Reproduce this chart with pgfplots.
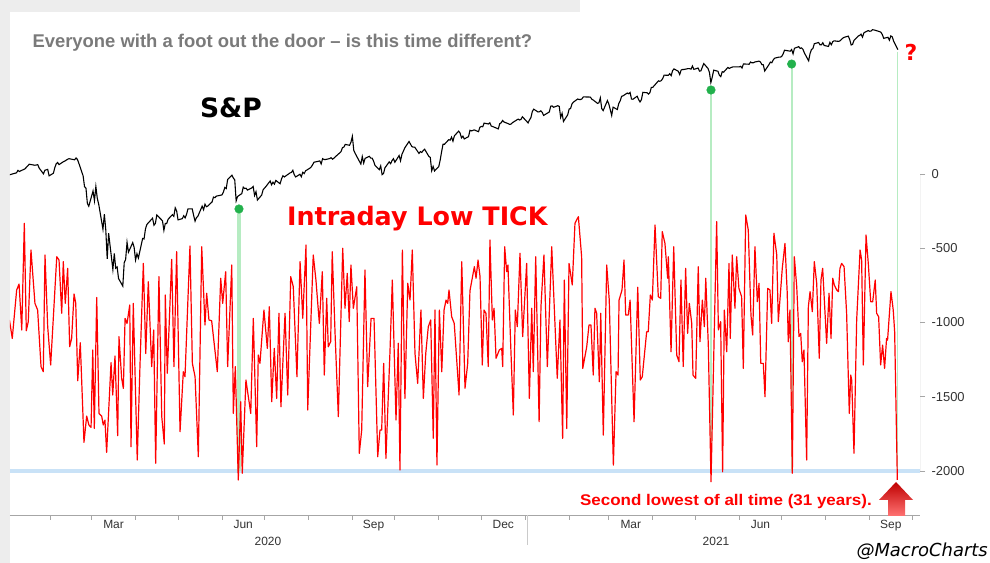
\documentclass[border=0pt]{standalone}
\usepackage{fontspec}
\setmainfont{Liberation Sans}
\newfontfamily\dejavu{DejaVu Sans}
\usepackage{pgfplots}
\usepackage{pgfplotstable}
\pgfplotsset{compat=1.18}
\definecolor{bgray}{HTML}{EDEDED}
\definecolor{axgray}{HTML}{A6A6A6}
\definecolor{labgray}{HTML}{333333}
\definecolor{titlegray}{HTML}{7A7A7A}
\definecolor{lblue}{HTML}{C9E2F7}
\definecolor{lgreen}{HTML}{B6ECC2}
\definecolor{dgreen}{HTML}{22B14C}
\definecolor{tred}{HTML}{FF0000}

\pgfplotstableread[row sep=\\]{
d v\\
2 -983\\ 4 -1107\\ 7.1 -781\\ 8.8 -741\\ 10.7 -1050\\ 12.5 -332\\ 13.9 -1055\\ 15.3 -994\\ 17.2 -512\\ 20 -871\\
21.9 -916\\ 24.3 -1297\\ 25.9 -1331\\ 27.1 -545\\ 29 -1028\\ 31.1 -1286\\ 35.4 -557\\ 37 -579\\ 38.9 -938\\ 40 -590\\
41.4 -871\\ 43.1 -635\\ 44.5 -1163\\ 45.9 -1107\\ 47.6 -808\\ 48.8 -871\\ 50.2 -1392\\ 52 -1136\\ 54.6 -1807\\ 56.5 -1630\\
58.1 -1690\\ 59.6 -1706\\ 60.8 -1185\\ 61.9 -1713\\ 63.6 -831\\ 65.2 -1612\\ 67.1 -1630\\ 68.2 -1690\\ 69.4 -1657\\ 70.6 -1874\\
73.7 -1270\\ 74.9 -1488\\ 76.5 -1226\\ 78.4 -1762\\ 79.3 -1095\\ 81.2 -1376\\ 82.4 -1443\\ 83.6 -972\\ 85 -1006\\ 86.9 -882\\
87.8 -1836\\ 89.4 -871\\ 92.2 -1926\\ 94.1 -1297\\ 96.5 -602\\ 98.2 -1208\\ 100 -725\\ 102.4 -1297\\ 103.8 -1050\\ 105.2 -1948\\
107.5 -691\\ 109.5 -1634\\ 111.3 -1818\\ 112 -815\\ 113.4 -1342\\ 116.5 -575\\ 118.1 -1297\\ 120 -523\\ 122.4 -1735\\ 124.7 -1331\\
125.9 -1365\\ 129.4 -485\\ 131.1 -1275\\ 133 -1365\\ 135.3 -1904\\ 137.7 -490\\ 140 -1017\\ 141.2 -803\\ 142.8 -983\\ 144.7 -988\\
148.7 -1331\\ 151.1 -702\\ 152.5 -871\\ 154.6 -658\\ 156 -1297\\ 158.9 -613\\ 160 -1612\\ 161.4 -1297\\ 163.5 -2061\\ 165.2 -1533\\
166.3 -2015\\ 168.9 -1387\\ 172.3 -1612\\ 174.1 -972\\ 176.5 -1836\\ 177.6 -1219\\ 178.8 -1275\\ 181.6 -916\\ 184 -1174\\ 185.4 -894\\
187.1 -1533\\ 188.9 -1174\\ 190.6 -1511\\ 192.2 -938\\ 193.6 -1567\\ 196.5 -938\\ 198.4 -1488\\ 200.5 -691\\ 202.3 -759\\ 204.9 -1365\\
207.1 -590\\ 209 -972\\ 211.3 -478\\ 212.5 -1589\\ 216.4 -545\\ 218.3 -714\\ 220.7 -1006\\ 222.8 -658\\ 224.2 -1354\\ 225.9 -837\\
227 -1163\\ 228.7 -1129\\ 229.8 -523\\ 231.8 -1073\\ 234.1 -1634\\ 237.2 -500\\ 238.8 -904\\ 240.4 -669\\ 241.8 -994\\ 243 -613\\
244.7 -904\\ 247.1 -759\\ 248.9 -1881\\ 250.6 -1724\\ 252.9 -646\\ 254.8 -1432\\ 257.2 -972\\ 259.3 -972\\ 261.9 -1904\\ 263.5 -1724\\
264.7 -1724\\ 266.1 -1275\\ 267.7 -1915\\ 270.6 -1185\\ 272.2 -714\\ 274.8 -1657\\ 276.4 -1140\\ 277.6 -1993\\ 279.3 -512\\ 281.1 -1511\\
283.1 -736\\ 284.7 -849\\ 286.3 -512\\ 288.2 -1208\\ 290.1 -1410\\ 292.4 -916\\ 294.1 -1511\\ 295.8 -1208\\ 297.6 -1028\\ 299.3 -983\\
301.1 -1780\\ 302.3 -916\\ 303.7 -1960\\ 305.4 -916\\ 307.1 -1331\\ 308.7 -916\\ 310.1 -849\\ 311.3 -871\\ 312.2 -781\\ 314.1 -961\\
315.9 -1006\\ 319.3 -1488\\ 321.2 -590\\ 323.5 -1443\\ 325.4 -1275\\ 327 -786\\ 330.1 -624\\ 331.3 -702\\ 332.7 -579\\ 334.1 -691\\
335.7 -1286\\ 336.9 -916\\ 338.3 -938\\ 339.9 -1297\\ 341.1 -444\\ 342.8 -983\\ 344 -904\\ 345.4 -1241\\ 347.7 -1185\\ 349.4 -1174\\
350.1 -1297\\ 351.5 -490\\ 352.9 -658\\ 353.8 -613\\ 355.7 -1140\\ 357.6 -1623\\ 359 -916\\ 360.4 -1028\\ 362.3 -534\\ 364.2 -1095\\
367 -602\\ 368.9 -1511\\ 370.6 -904\\ 371.7 -1331\\ 373.4 -557\\ 375.8 -1668\\ 377.1 -894\\ 379.2 -545\\ 381.6 -1297\\ 384.7 -490\\
388.6 -1376\\ 390.5 -983\\ 392.4 -1780\\ 393.6 -714\\ 395.3 -1713\\ 396.9 -602\\ 399.2 -747\\ 401.1 -332\\ 403.5 -287\\ 405.8 -557\\
406.6 -1309\\ 409.4 -1163\\ 411 -1017\\ 412.4 -1017\\ 414 -1354\\ 415.2 -904\\ 416.4 -938\\ 418.3 -1399\\ 419.3 -938\\ 421.1 -1758\\
423.5 -613\\ 425.3 -849\\ 428.2 -1960\\ 430.1 -1331\\ 431.5 -1354\\ 432.2 -849\\ 434.3 -781\\ 435.7 -579\\ 436.9 -950\\ 438.7 -950\\
440 -849\\ 442.8 -1668\\ 445.4 -763\\ 447.2 -1387\\ 448.6 -1365\\ 451.7 -1062\\ 452.8 -1062\\ 454.3 -815\\ 455.7 -849\\ 457.6 -343\\
459.9 -826\\ 461.6 -837\\ 462.7 -388\\ 464.6 -467\\ 466.5 -702\\ 467 -557\\ 468.9 -1197\\ 470.8 -490\\ 472.9 -1219\\ 474.5 -1264\\
475.9 -714\\ 477.5 -1297\\ 479.2 -635\\ 480.6 -1073\\ 481.8 -871\\ 483.5 -1006\\ 484.4 -1354\\ 486.3 -1376\\ 488.1 -624\\ 489.3 -1129\\
491 -849\\ 492.4 -1028\\ 493.4 -702\\ 495.2 -1152\\ 497.1 -2072\\ 501.1 -321\\ 502.3 -1050\\ 503.9 -994\\ 505.3 -2005\\ 506.5 -916\\
508.2 -1197\\ 509.8 -602\\ 510.7 -1107\\ 512.1 -545\\ 514 -904\\ 515.2 -557\\ 516.8 -770\\ 518.7 -826\\ 519.9 -1309\\ 521.6 -276\\
523.4 -377\\ 525.3 -950\\ 526.5 -1084\\ 528.1 -490\\ 529.8 -860\\ 531 -736\\ 532.2 -1275\\ 534 -1275\\ 535.2 -1500\\ 537.1 -770\\
538.7 -781\\ 539.9 -1006\\ 541.5 -399\\ 543.5 -545\\ 544.6 -994\\ 547.4 -635\\ 549.3 -467\\ 550.9 -803\\ 551.6 -1129\\ 552.8 -916\\
554.5 -2015\\ 555.9 -557\\ 557.6 -759\\ 559.2 -1095\\ 560.4 -1073\\ 561.5 -1264\\ 562.7 -1185\\ 564.6 -1926\\ 565.8 -894\\ 567 -792\\
568.6 -927\\ 570 -590\\ 571.7 -736\\ 573.5 -1241\\ 574.7 -714\\ 575.9 -635\\ 578.7 -1140\\ 580.4 -803\\ 581.8 -1107\\ 583 -702\\
584.1 -747\\ 585.8 -781\\ 587 -792\\ 588.1 -635\\ 589.3 -602\\ 591 -624\\ 592.8 -938\\ 594.7 -1612\\ 595.7 -1354\\ 596.4 -1387\\
598 -1881\\ 599.9 -983\\ 602.3 -512\\ 603.4 -579\\ 604.6 -1286\\ 606.5 -411\\ 608.1 -602\\ 609.8 -860\\ 611.2 -860\\ 613 -714\\
614 -938\\ 615.4 -961\\ 616.8 -1286\\ 618.2 -1152\\ 619.6 -1309\\ 621 -1107\\ 621.7 -1118\\ 624.1 -792\\ 625.7 -916\\ 626.7 -1062\\
628.6 -2060\\
}\tickdata

\pgfplotstableread[row sep=\\]{
d p\\
1 3258\\ 2 3235\\ 5 3246\\ 7 3253\\ 8 3275\\ 9 3265\\ 13 3289\\ 15 3317\\ 16 3330\\ 20 3321\\
22 3326\\ 23 3295\\ 26 3244\\ 27 3276\\ 29 3284\\ 30 3226\\ 33 3249\\ 34 3298\\ 35 3334\\ 36 3346\\
37 3327\\ 40 3352\\ 41 3358\\ 43 3374\\ 44 3380\\ 48 3370\\ 49 3386\\ 50 3373\\ 51 3338\\ 54 3226\\
55 3128\\ 56 3116\\ 57 2979\\ 58 2954\\ 61 3090\\ 62 3003\\ 63 3130\\ 64 3024\\ 65 2972\\ 68 2747\\
69 2882\\ 70 2741\\ 71 2481\\ 72 2711\\ 75 2386\\ 76 2529\\ 77 2398\\ 78 2409\\ 79 2305\\ 82 2237\\
83 2447\\ 84 2476\\ 85 2630\\ 86 2541\\ 89 2627\\ 90 2585\\ 91 2471\\ 92 2527\\ 93 2489\\ 96 2664\\
97 2660\\ 98 2750\\ 99 2790\\ 103 2846\\ 104 2783\\ 105 2800\\ 106 2875\\ 110 2823\\ 111 2737\\ 112 2799\\
113 2798\\ 114 2837\\ 117 2878\\ 118 2863\\ 119 2939\\ 120 2912\\ 121 2831\\ 124 2842\\ 125 2868\\ 126 2849\\
127 2881\\ 128 2930\\ 131 2930\\ 132 2870\\ 133 2820\\ 134 2852\\ 135 2864\\ 138 2954\\ 139 2922\\ 140 2972\\
141 2949\\ 142 2955\\ 145 2992\\ 146 3036\\ 147 3030\\ 148 3044\\ 152 3055\\ 153 3080\\ 154 3122\\ 155 3112\\
156 3194\\ 159 3232\\ 160 3207\\ 161 3190\\ 162 3002\\ 163 3041\\ 166 3067\\ 167 3125\\ 168 3113\\ 169 3115\\
170 3098\\ 173 3118\\ 174 3131\\ 175 3050\\ 176 3084\\ 177 3009\\ 180 3053\\ 181 3100\\ 182 3116\\ 183 3130\\
186 3180\\ 187 3146\\ 188 3169\\ 189 3152\\ 190 3185\\ 193 3155\\ 194 3198\\ 195 3227\\ 196 3216\\ 197 3225\\
200 3252\\ 201 3257\\ 202 3276\\ 203 3236\\ 204 3216\\ 207 3240\\ 208 3218\\ 209 3258\\ 210 3246\\ 211 3271\\
214 3295\\ 215 3306\\ 216 3327\\ 217 3349\\ 218 3351\\ 221 3360\\ 222 3333\\ 223 3380\\ 224 3373\\ 225 3372\\
228 3381\\ 229 3389\\ 230 3375\\ 231 3385\\ 232 3397\\ 235 3431\\ 236 3443\\ 237 3478\\ 238 3484\\ 239 3508\\
242 3500\\ 243 3527\\ 244 3580\\ 245 3455\\ 246 3427\\ 250 3332\\ 251 3399\\ 252 3340\\ 253 3383\\ 256 3401\\
257 3385\\ 258 3385\\ 259 3357\\ 260 3319\\ 263 3281\\ 264 3315\\ 265 3237\\ 266 3247\\ 267 3298\\ 270 3351\\
271 3335\\ 272 3363\\ 273 3380\\ 274 3348\\ 277 3408\\ 278 3361\\ 279 3419\\ 280 3447\\ 281 3477\\ 284 3534\\
285 3511\\ 286 3489\\ 287 3483\\ 288 3484\\ 291 3427\\ 292 3443\\ 293 3436\\ 294 3453\\ 295 3465\\ 298 3400\\
299 3391\\ 300 3271\\ 301 3310\\ 302 3270\\ 305 3310\\ 306 3369\\ 307 3443\\ 308 3510\\ 309 3509\\ 312 3550\\
313 3546\\ 314 3573\\ 315 3537\\ 316 3585\\ 319 3627\\ 320 3610\\ 321 3567\\ 322 3582\\ 323 3557\\ 326 3578\\
327 3635\\ 328 3629\\ 330 3638\\ 333 3622\\ 334 3662\\ 335 3669\\ 336 3666\\ 337 3699\\ 340 3691\\ 341 3702\\
342 3673\\ 343 3668\\ 344 3663\\ 347 3647\\ 348 3694\\ 349 3701\\ 350 3722\\ 351 3709\\ 354 3694\\ 355 3687\\
356 3690\\ 357 3703\\ 361 3735\\ 362 3727\\ 363 3732\\ 364 3756\\ 368 3701\\ 369 3727\\ 370 3748\\ 371 3803\\
372 3824\\ 375 3799\\ 376 3801\\ 377 3809\\ 378 3795\\ 379 3768\\ 383 3799\\ 384 3851\\ 385 3853\\ 386 3841\\
389 3855\\ 390 3849\\ 391 3750\\ 392 3787\\ 393 3714\\ 396 3774\\ 397 3826\\ 398 3830\\ 399 3871\\ 400 3887\\
403 3915\\ 404 3911\\ 405 3910\\ 406 3916\\ 407 3934\\ 411 3933\\ 412 3932\\ 413 3913\\ 414 3906\\ 417 3876\\
418 3881\\ 419 3925\\ 420 3829\\ 421 3811\\ 424 3901\\ 425 3870\\ 426 3820\\ 427 3768\\ 428 3842\\ 431 3821\\
432 3875\\ 433 3898\\ 434 3939\\ 435 3943\\ 438 3969\\ 439 3962\\ 440 3974\\ 441 3915\\ 442 3913\\ 445 3940\\
446 3910\\ 447 3889\\ 448 3909\\ 449 3975\\ 452 3971\\ 453 3959\\ 454 3973\\ 455 4020\\ 456 4020\\ 460 4078\\
461 4074\\ 462 4080\\ 463 4098\\ 464 4129\\ 467 4128\\ 468 4142\\ 469 4125\\ 470 4170\\ 471 4185\\ 474 4164\\
475 4135\\ 476 4174\\ 477 4180\\ 478 4180\\ 481 4188\\ 482 4187\\ 483 4183\\ 484 4211\\ 485 4181\\ 488 4193\\
489 4165\\ 490 4168\\ 491 4202\\ 492 4233\\ 495 4189\\ 496 4153\\ 497 4063\\ 498 4113\\ 499 4174\\ 502 4164\\
503 4128\\ 504 4116\\ 505 4160\\ 506 4156\\ 509 4198\\ 510 4189\\ 511 4196\\ 512 4201\\ 513 4204\\ 517 4203\\
518 4208\\ 519 4193\\ 520 4230\\ 521 4229\\ 524 4227\\ 525 4247\\ 526 4240\\ 527 4240\\ 528 4247\\ 531 4255\\
532 4247\\ 533 4224\\ 534 4222\\ 535 4166\\ 538 4224\\ 539 4246\\ 540 4241\\ 541 4266\\ 542 4281\\ 545 4291\\
546 4291\\ 547 4297\\ 548 4320\\ 549 4353\\ 553 4344\\ 554 4359\\ 555 4320\\ 556 4370\\ 559 4385\\ 560 4369\\
561 4374\\ 562 4361\\ 563 4328\\ 566 4258\\ 567 4323\\ 568 4359\\ 569 4368\\ 570 4411\\ 573 4422\\ 574 4402\\
575 4401\\ 576 4420\\ 577 4395\\ 580 4387\\ 581 4423\\ 582 4402\\ 583 4429\\ 584 4437\\ 587 4432\\ 588 4436\\
589 4447\\ 590 4460\\ 591 4468\\ 594 4479\\ 595 4448\\ 596 4400\\ 597 4405\\ 598 4441\\ 601 4480\\ 602 4486\\
603 4497\\ 604 4470\\ 605 4509\\ 608 4529\\ 609 4523\\ 610 4524\\ 611 4537\\ 612 4535\\ 616 4520\\ 617 4514\\
618 4493\\ 619 4459\\ 622 4469\\ 623 4443\\ 624 4481\\ 625 4473\\ 626 4433\\ 629 4358\\
}\spx

\begin{document}
\begin{tikzpicture}[x=1bp,y=1bp]
% background frame
\fill[bgray] (0,0) rectangle (990,563);
\fill[white] (10,0) rectangle (990,551);
\fill[white] (580,551) rectangle (990,563);

% TICK axis (right)
\begin{axis}[
  at={(10bp,48bp)}, anchor=south west,
  scale only axis, width=910bp, height=495bp,
  xmin=2.4, xmax=644.6, ymin=-2296, ymax=1037,
  axis x line*=bottom, axis y line*=right,
  x axis line style={draw=axgray, line width=0.8bp, -},
  y axis line style={draw=none, -},
  xtick={31,60,91,121,152,182,213,244,274,305,335,366,397,425,456,486,517,547,578,609,639},
  xticklabels={},
  extra x ticks={75.5,167,259,350.5,440.5,532,624},
  extra x tick labels={Mar,Jun,Sep,Dec,Mar,Jun,Sep},
  extra x tick style={major tick length=0pt},
  ytick={-2000,-1500,-1000,-500,0},
  yticklabels={-2000,-1500,-1000,-500,0},
  tick align=outside, major tick length=5bp,
  tick style={draw=axgray, line width=0.8bp},
  xticklabel style={font=\fontsize{12}{13}\selectfont, text=labgray, yshift=-1.5bp},
  yticklabel style={font=\fontsize{13}{14}\selectfont, text=labgray, anchor=west, xshift=3bp},
]
\addplot[lblue, line width=3.5bp] coordinates {(2.4,-2000) (644.6,-2000)};
\addplot[lgreen, line width=4.5bp] coordinates {(164,-236) (164,-2000)};
\addplot[lgreen, line width=2bp] coordinates {(497.1,566) (497.1,-2000)};
\addplot[lgreen, line width=2bp] coordinates {(554,741) (554,-2000)};
\addplot[lgreen, line width=1.5bp] coordinates {(628.6,822) (628.6,-2000)};
\addplot[tred, line width=1.2bp, line join=round] table[x=d, y=v] {\tickdata};
\draw[axgray, line width=0.8bp] (axis cs:644.6,0) -- (axis cs:644.6,-2000);
\end{axis}

% S&P axis (hidden)
\begin{axis}[
  at={(10bp,48bp)}, anchor=south west,
  scale only axis, width=910bp, height=495bp,
  xmin=2.4, xmax=644.6, ymin=184, ymax=4624,
  hide axis,
]
\addplot[black, line width=1.1bp, line join=miter] table[x=d, y=p] {\spx};
\addplot[only marks, mark=*, mark size=4.3bp, color=dgreen] coordinates {(164,2929) (497.1,3996) (554,4229)};
\end{axis}

% year separator and year labels
\draw[axgray!60, line width=0.8bp] (527,48) -- (527,18);
\node[font=\fontsize{12}{13}\selectfont, text=labgray] at (268,22) {2020};
\node[font=\fontsize{12}{13}\selectfont, text=labgray] at (716,22) {2021};

% texts
\node[anchor=west, font=\bfseries\fontsize{18.5}{20}\selectfont, text=titlegray] at (29,520) {Everyone with a foot out the door – is this time different?};
\node[font=\dejavu\bfseries\fontsize{26.7}{28}\selectfont] at (231,455) {S\&P};
\node[anchor=west, inner sep=0pt, font=\dejavu\bfseries\fontsize{25.5}{27}\selectfont, text=tred] at (287,344) {Intraday Low TICK};
\node[font=\dejavu\bfseries\fontsize{22}{24}\selectfont, text=tred] at (911,511) {?};
\node[anchor=east, inner sep=0pt, font=\bfseries\fontsize{15.5}{17}\selectfont, text=tred] at (872,61) {\scalebox{1.1}[1]{Second lowest of all time (31 years).}};
\node[anchor=east, inner sep=0pt, font=\dejavu\itshape\fontsize{18}{20}\selectfont] at (988,12) {@MacroCharts};
% arrow
\shade[top color=red!75!black, bottom color=red!55!white]
  (896,81) -- (879,63) -- (888,63) -- (888,47) -- (905,47) -- (905,63) -- (913,63) -- cycle;
\useasboundingbox (0,0) rectangle (990,563);
\end{tikzpicture}
\end{document}
